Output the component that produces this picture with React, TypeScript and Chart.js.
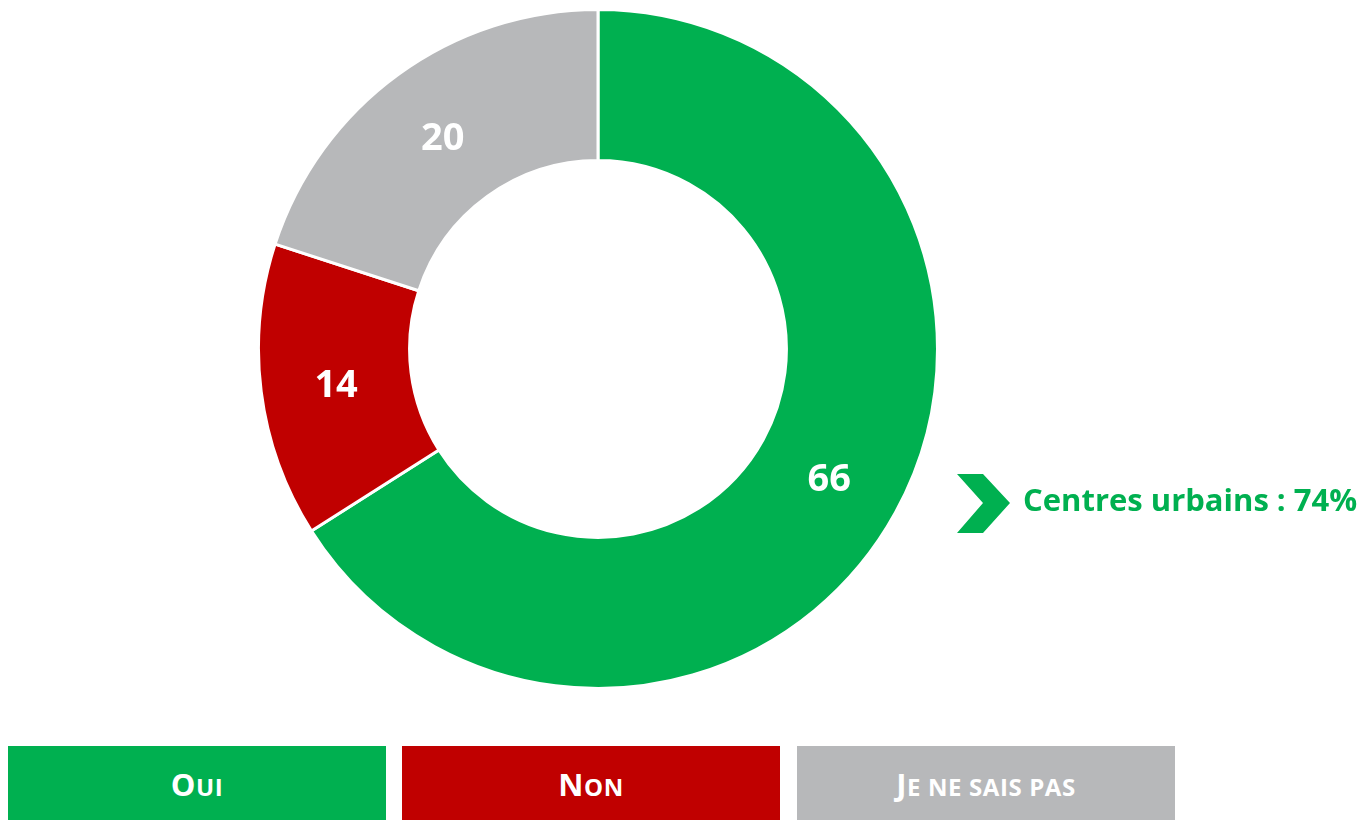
import React, { useEffect, useRef } from "react";
import { Chart, registerables } from "chart.js";

Chart.register(...registerables);

const categories = ["Oui", "Non", "Je ne sais pas"];
const values = [66, 14, 20];
const colors = ["#00B050", "#C00000", "#B7B8BA"];
const calloutText = "Centres urbains : 74%";

const labelPlugin = {
  id: "sliceLabels",
  afterDatasetsDraw(chart: any) {
    const ctx = chart.ctx;
    const meta = chart.getDatasetMeta(0);
    ctx.save();
    ctx.fillStyle = "#FFFFFF";
    ctx.font = "bold 38px 'Open Sans'";
    ctx.textAlign = "center";
    ctx.textBaseline = "middle";
    meta.data.forEach((arc: any, i: number) => {
      const p = arc.tooltipPosition();
      ctx.fillText(String(chart.data.datasets[0].data[i]), p.x, p.y + 4);
    });
    ctx.restore();
  },
};

function SmallCaps({ text }: { text: string }) {
  return (
    <span>
      {text.split("").map((ch, i) => {
        const isUpper = ch !== ch.toLowerCase();
        return (
          <span key={i} style={{ fontSize: isUpper ? 31 : 24 }}>
            {ch.toUpperCase()}
          </span>
        );
      })}
    </span>
  );
}

export default function App() {
  const ref = useRef<HTMLCanvasElement | null>(null);
  useEffect(() => {
    if (!ref.current) return;
    const chart = new Chart(ref.current, {
      type: "doughnut",
      data: {
        labels: categories,
        datasets: [
          {
            data: values,
            backgroundColor: colors,
            borderColor: "#FFFFFF",
            borderWidth: 3,
          },
        ],
      },
      options: {
        responsive: false,
        maintainAspectRatio: false,
        animation: false,
        cutout: "55.5%",
        layout: { padding: 0 },
        plugins: {
          legend: { display: false },
          tooltip: { enabled: false },
        },
      },
      plugins: [labelPlugin],
    });
    return () => chart.destroy();
  }, []);

  const boxLefts = [8, 402, 797];
  const font = "'Open Sans', sans-serif";

  return (
    <div>
      <canvas
        ref={ref}
        width={682}
        height={682}
        style={{ position: "fixed", left: 257, top: 8, width: 682, height: 682 }}
      />
      <svg
        style={{ position: "fixed", left: 950, top: 470, overflow: "visible" }}
        width={70}
        height={70}
      >
        <polygon points="7,4 33,4 60,33 33,63 7,63 33,33" fill="#00B050" />
      </svg>
      <div
        style={{
          position: "fixed",
          left: 1023,
          top: 478,
          fontFamily: font,
          fontWeight: 700,
          fontSize: 31,
          lineHeight: "42px",
          color: "#00B050",
          whiteSpace: "nowrap",
        }}
      >
        {calloutText}
      </div>
      {categories.map((c, i) => (
        <div
          key={c}
          style={{
            position: "fixed",
            left: boxLefts[i],
            top: 746,
            width: 378,
            height: 74,
            background: colors[i],
            color: "#FFFFFF",
            fontFamily: font,
            fontWeight: 700,
            letterSpacing: 0.6,
            display: "flex",
            alignItems: "center",
            justifyContent: "center",
            paddingTop: 7,
            boxSizing: "border-box",
            whiteSpace: "nowrap",
            lineHeight: "40px",
          }}
        >
          <SmallCaps text={c} />
        </div>
      ))}
    </div>
  );
}
